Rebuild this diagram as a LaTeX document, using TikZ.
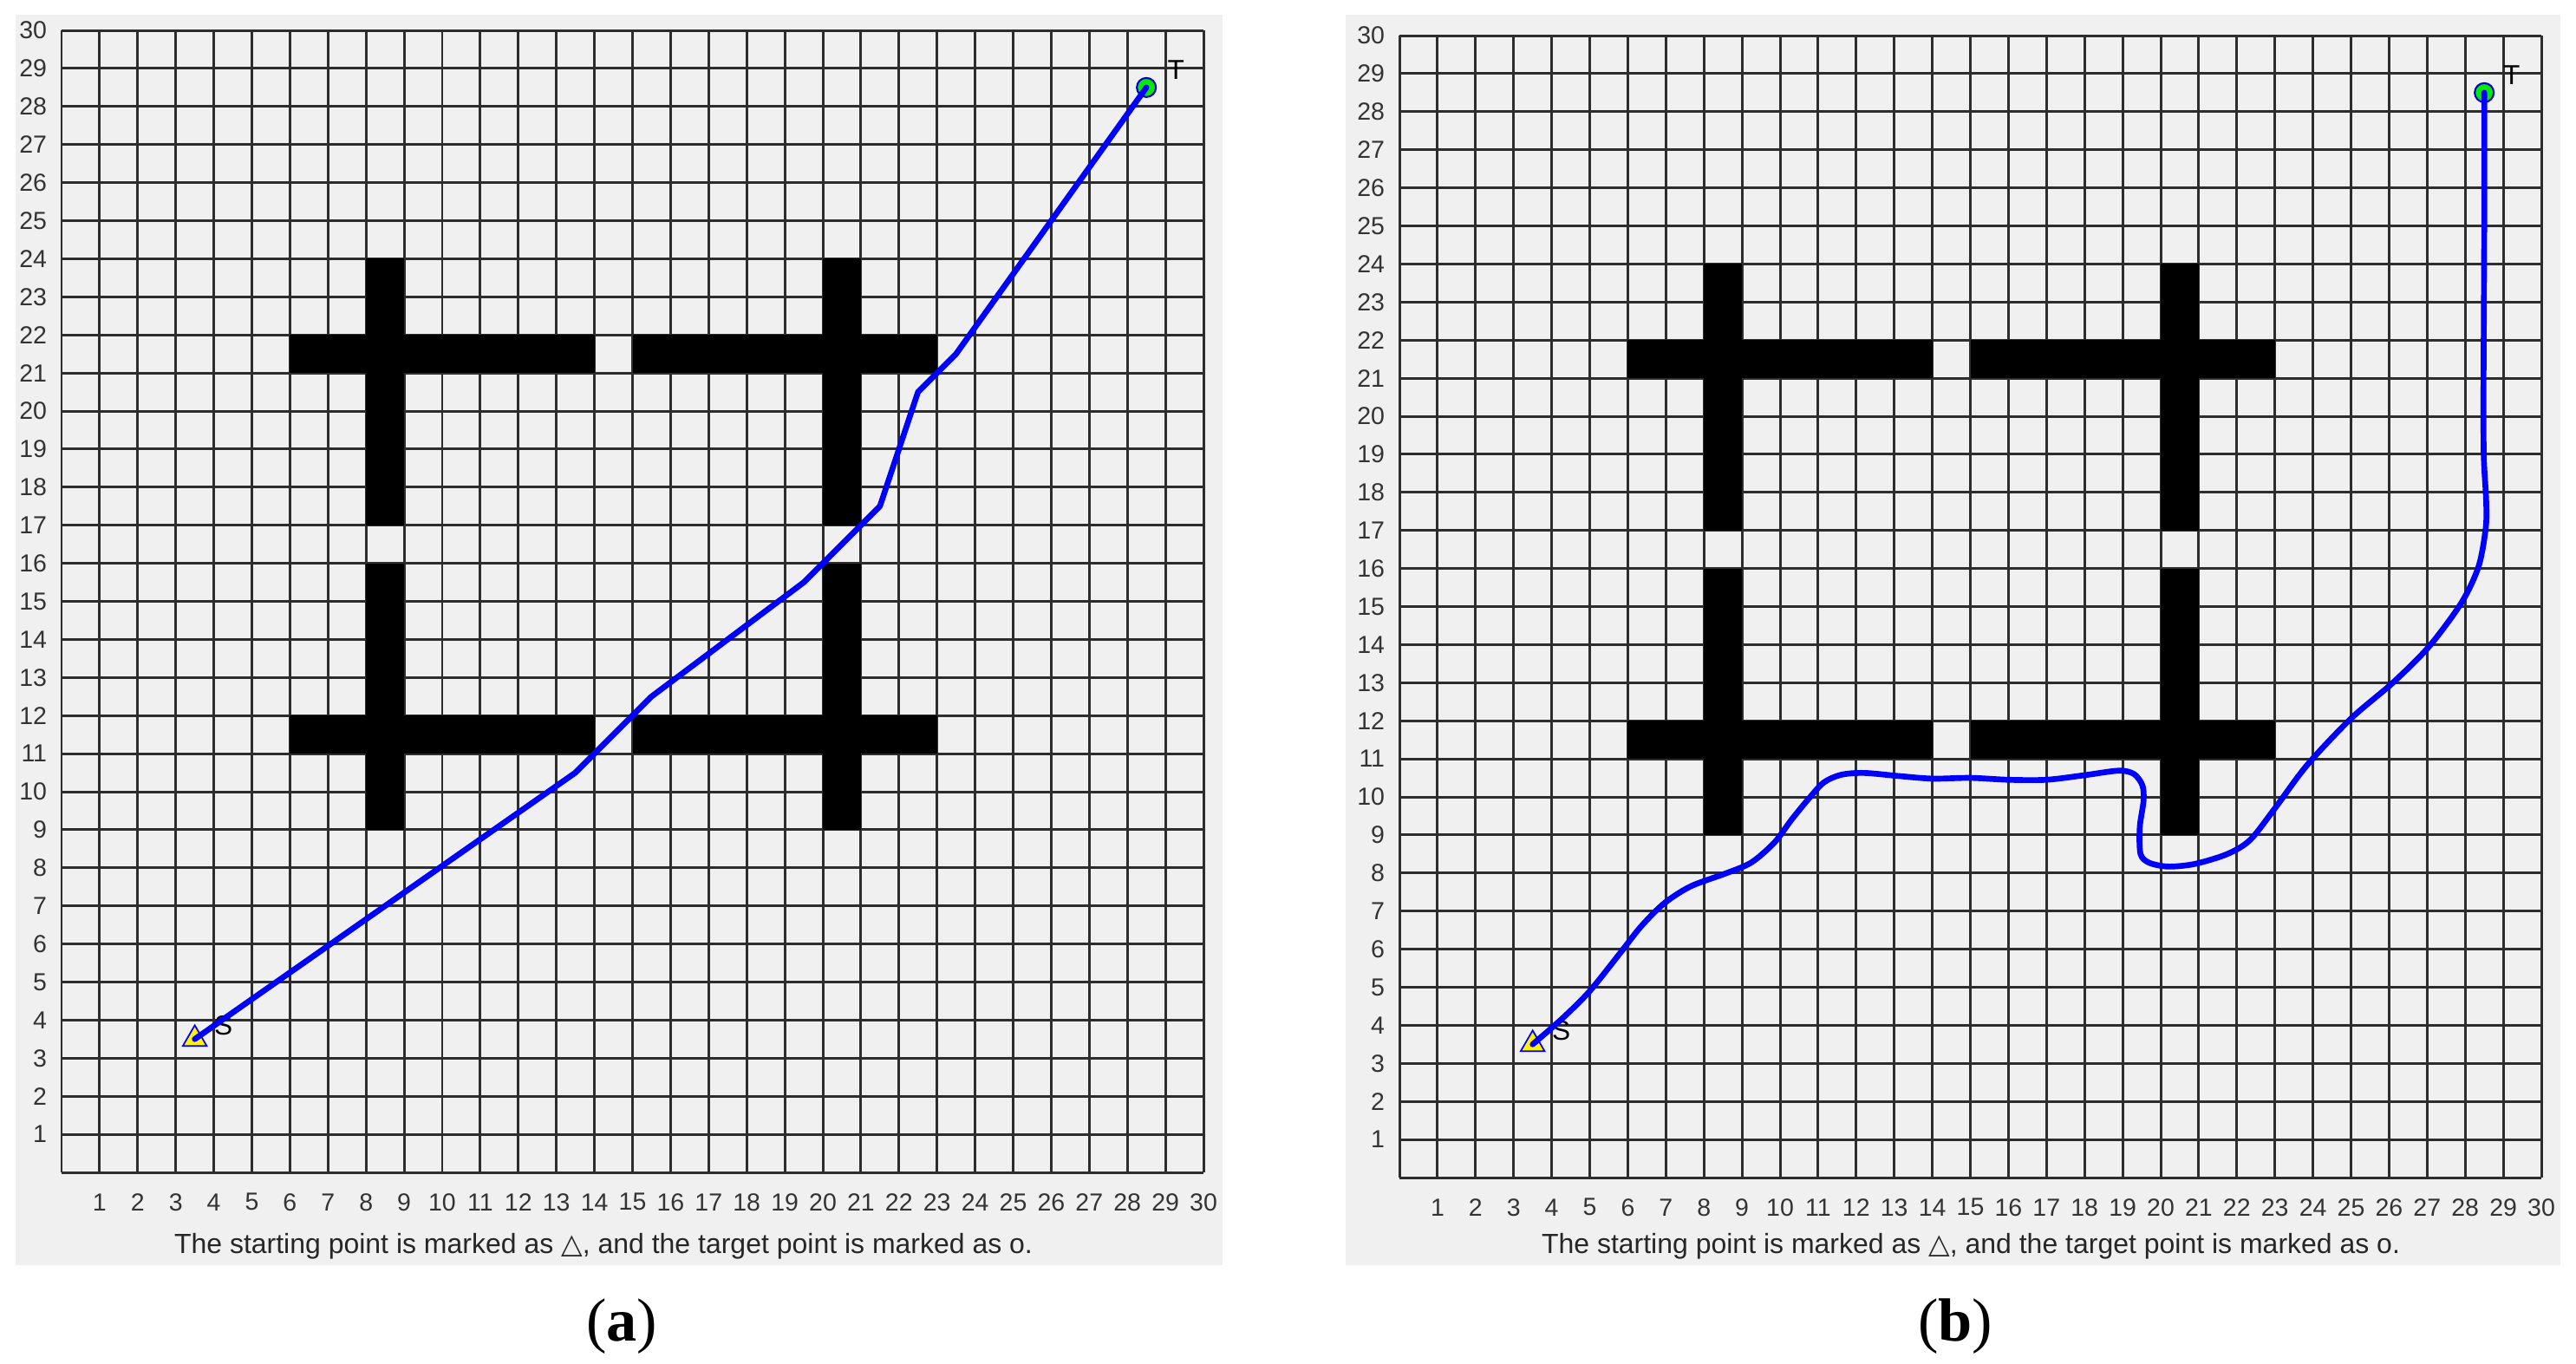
\documentclass[tikz,border=0pt]{standalone}
\usepackage{fontspec}
\setmainfont{Liberation Sans}
\newfontfamily\capserif{Liberation Serif}
\newfontfamily\symfont{DejaVu Sans}
\usepackage{xcolor}
\usepackage{tikz}
\usetikzlibrary{shapes.geometric, positioning}
\definecolor{figgray}{RGB}{240,240,240}
\definecolor{gridline}{RGB}{45,45,45}
\definecolor{pathblue}{RGB}{0,0,255}
\definecolor{goalgreen}{RGB}{0,235,0}
\tikzstyle{panelbg} = [fill=figgray]
\tikzstyle{obstacle} = [fill=black]
\tikzstyle{gridlines} = [draw=gridline, line width=0.85pt]
\tikzstyle{route} = [draw=pathblue, line width=1.9pt, line join=round, line cap=round]
\tikzstyle{startmark} = [regular polygon, regular polygon sides=3, minimum size=0.32cm, inner sep=0pt, fill=yellow, draw=pathblue, line width=0.5pt]
\tikzstyle{goalmark} = [circle, minimum size=0.22cm, inner sep=0pt, fill=goalgreen, draw=pathblue!80!black, line width=0.6pt]
\tikzstyle{ticklabel} = [font=\fontsize{8.1}{9}\selectfont, text=black!80, inner sep=0pt]
\tikzstyle{marklabel} = [font=\fontsize{9}{10}\selectfont, inner sep=0pt]
\tikzstyle{caption} = [font=\fontsize{9.1}{11}\selectfont, text=black!85, inner sep=0pt]
\tikzstyle{panellabel} = [font=\capserif\fontsize{20}{24}\selectfont, inner sep=0pt]

% grid, obstacles and tick labels of one map (in cell units)
\newcommand{\mazegrid}{%
  \foreach \k in {0,...,30} {
    \draw[gridlines] (\k,0) -- (\k,30);
    \draw[gridlines] (0,\k) -- (30,\k);
  }
  \foreach \ox/\oy/\ow/\oh in {8/9/1/7, 8/17/1/7, 20/9/1/7, 20/17/1/7,
                               6/11/8/1, 15/11/8/1, 6/21/8/1, 15/21/8/1}
    \fill[obstacle] (\ox,\oy) rectangle ++(\ow,\oh);
  \foreach \k in {1,...,30} {
    \node[ticklabel, anchor=east] at (-0.37,\k) {\k};
    \node[ticklabel] at (\k,-0.78) {\k};
  }
}

\begin{document}
\begin{tikzpicture}
    \useasboundingbox (0,0) rectangle (29.71,15.72);
    \fill[panelbg] (0.18,1.13) rectangle (14.10,15.55);
    \fill[panelbg] (15.52,1.13) rectangle (29.53,15.55);

    % (a) straight-line route
    \begin{scope}[shift={(0.71,2.20)}, x=0.439cm, y=0.439cm]
        \mazegrid
        \node (startA) [startmark] at (3.5,3.5) {};
        \node (goalA) [goalmark] at (28.5,28.5) {};
        \node (sA) [marklabel] at (4.25,3.85) {S};
        \node (tA) [marklabel] at (29.28,28.97) {T};
        \draw [route] (startA.center) -- (13.5,10.5) -- (15.5,12.5) -- (19.5,15.5)
            -- (21.5,17.5) -- (22.5,20.5) -- (23.5,21.5) -- (goalA.center);
    \end{scope}

    % (b) smoothed route
    \begin{scope}[shift={(16.14,2.14)}, x=0.439cm, y=0.439cm]
        \mazegrid
        \node (startB) [startmark] at (3.5,3.5) {};
        \node (goalB) [goalmark] at (28.5,28.5) {};
        \node (sB) [marklabel] at (4.25,3.85) {S};
        \node (tB) [marklabel] at (29.22,28.97) {T};
        \draw [route] plot[smooth, tension=0.5] coordinates {
            (3.5,3.5) (4.3,4.2) (5.0,4.9) (5.8,5.9) (6.35,6.6) (6.95,7.2)
            (7.65,7.65) (8.6,8.0) (9.25,8.28) (9.85,8.8) (10.3,9.4) (10.75,9.95)
            (11.15,10.38) (11.6,10.58) (12.2,10.63) (13.1,10.55) (14.0,10.48)
            (15.0,10.5) (16.0,10.45) (17.0,10.45) (18.0,10.57) (18.9,10.69)
            (19.3,10.6) (19.52,10.3) (19.55,9.9) (19.45,9.2) (19.47,8.5)
            (19.7,8.27) (20.2,8.17) (20.9,8.24) (21.75,8.5) (22.35,8.87)
            (23.0,9.7) (23.85,10.84) (25.0,12.06) (26.1,13.0) (27.05,13.95)
            (27.9,15.1) (28.35,16.05) (28.54,17.07) (28.55,17.8) (28.49,18.9)
            (28.48,20.5) (28.5,25) (28.5,28.5)};
    \end{scope}

    \node (capA) [caption] at (6.96,1.35) {The starting point is marked as {\symfont △}, and the target point is marked as o.};
    \node (capB) [caption] at (22.73,1.35) {The starting point is marked as {\symfont △}, and the target point is marked as o.};
    \node (labA) [panellabel] at (7.17,0.42) {(\textbf{a})};
    \node (labB) [panellabel] at (22.55,0.42) {(\textbf{b})};
\end{tikzpicture}
\end{document}
